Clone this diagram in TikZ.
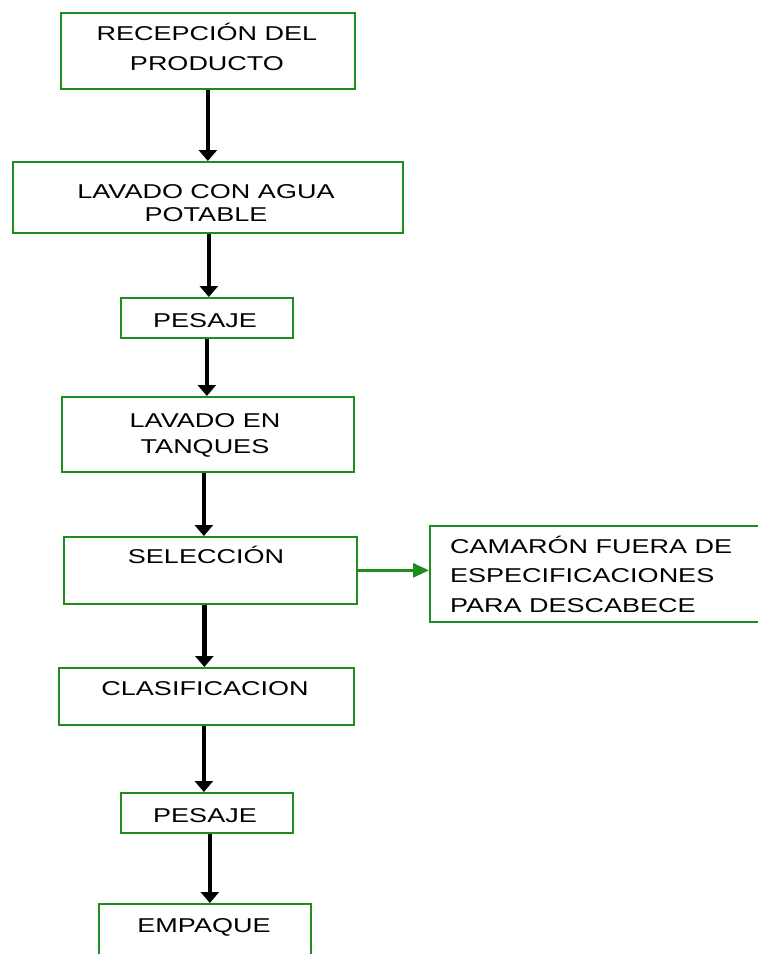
\documentclass[tikz,border=0pt]{standalone}
\usepackage{fontspec}
\setmainfont{Liberation Sans}[FakeStretch=1.35]
\usetikzlibrary{arrows.meta}
\definecolor{boxgreen}{RGB}{30,140,30}
% lines of a caption, first baseline on the node's base
\newcommand\textstack[3]{{\fontsize{20}{#1}\selectfont\begin{tabular}[t]{@{}#2@{}}#3\end{tabular}}}

\begin{document}
\begin{tikzpicture}[x=1pt,y=-1pt,
  stage/.style={draw=boxgreen, line width=1.7pt, inner sep=0pt, anchor=north west, rectangle},
  caption/.style={inner sep=0pt, anchor=base, text=black},
  flow/.style={line width=4.5pt, -{Triangle[length=11pt,width=18pt]}},
  reject/.style={draw=boxgreen, line width=3pt, -{Triangle[length=16pt,width=14pt,fill=boxgreen]}}]

\useasboundingbox (0,0) rectangle (758,954);
\clip (0,0) rectangle (758,954);

% process stages
\node[stage, minimum width=294pt, minimum height=76pt] (b1) at (60,12) {};
\node[stage, minimum width=390pt, minimum height=71pt] (b2) at (12,161) {};
\node[stage, minimum width=172pt, minimum height=40pt] (b3) at (120,297) {};
\node[stage, minimum width=292pt, minimum height=75pt] (b4) at (61,396) {};
\node[stage, minimum width=293pt, minimum height=67pt] (b5) at (63,536) {};
\node[stage, minimum width=332pt, minimum height=96pt] (b6) at (429,525) {};
\node[stage, minimum width=295pt, minimum height=57pt] (b7) at (58,667) {};
\node[stage, minimum width=172pt, minimum height=40pt] (b8) at (120,792) {};
\node[stage, minimum width=212pt, minimum height=80pt] (b9) at (98,903) {};

% captions
\node[caption] (t1) at (207,40) {\textstack{30.7pt}{c}{RECEPCIÓN DEL\\PRODUCTO}};
\node[caption] (t2) at (206,198) {\textstack{23.5pt}{c}{LAVADO CON AGUA\\POTABLE}};
\node[caption] (t3) at (205,327) {\textstack{24pt}{c}{PESAJE}};
\node[caption] (t4) at (205,427) {\textstack{26pt}{c}{LAVADO EN\\TANQUES}};
\node[caption] (t5) at (206,563) {\textstack{24pt}{c}{SELECCIÓN}};
\node[caption, anchor=base west] (t6) at (450,553) {\textstack{29.5pt}{l}{CAMARÓN FUERA DE\\ESPECIFICACIONES\\PARA DESCABECE}};
\node[caption] (t7) at (205,695) {\textstack{24pt}{c}{CLASIFICACION}};
\node[caption] (t8) at (205,822) {\textstack{24pt}{c}{PESAJE}};
\node[caption] (t9) at (204,932) {\textstack{24pt}{c}{EMPAQUE}};

% main flow
\coordinate (s1) at ([xshift=0pt]b1.south);
\coordinate (s2) at ([xshift=1pt]b2.south);
\coordinate (s3) at ([xshift=0pt]b3.south);
\coordinate (s4) at ([xshift=-4pt]b4.south);
\coordinate (s5) at ([xshift=-6pt]b5.south);
\coordinate (s7) at ([xshift=-2.5pt]b7.south);
\coordinate (s8) at ([xshift=3pt]b8.south);
\draw[flow] (s1) -- (s1 |- b2.north);
\draw[flow] (s2) -- (s2 |- b3.north);
\draw[flow] (s3) -- (s3 |- b4.north);
\draw[flow] (s4) -- (s4 |- b5.north);
\draw[flow] (s5) -- (s5 |- b7.north);
\draw[flow] (s7) -- (s7 |- b8.north);
\draw[flow] (s8) -- (s8 |- b9.north);

% rejected product
\draw[reject] (b5.east) -- (b5.east -| b6.west);
\end{tikzpicture}
\end{document}
